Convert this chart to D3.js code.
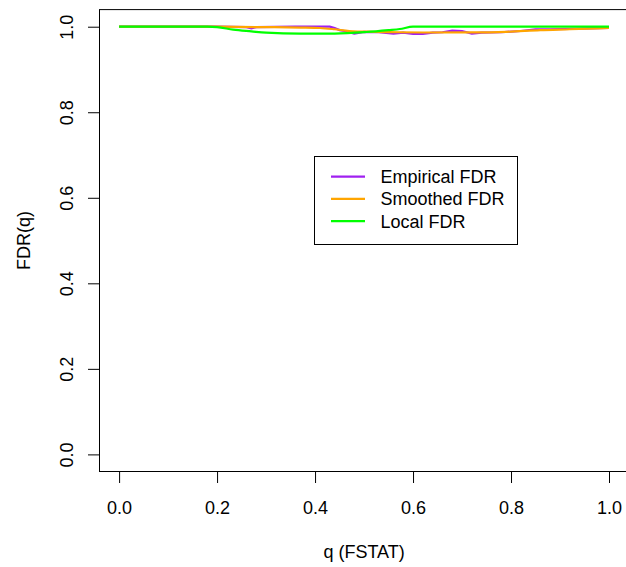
<!DOCTYPE html>
<html>
<head>
<meta charset="utf-8">
<script src="https://cdn.jsdelivr.net/npm/d3@7"></script>
<style>
  body { margin: 0; background: #fff; }
  text { font-family: "Liberation Sans", Arial, Helvetica, sans-serif; }
</style>
</head>
<body>
<div id="graph-div"></div>
<script>
// values
let empQ   = [0.00, 0.20, 0.26, 0.27, 0.28, 0.36, 0.43, 0.44, 0.45, 0.46, 0.48, 0.50, 0.53, 0.56, 0.58, 0.60, 0.62, 0.64, 0.66, 0.68, 0.70, 0.72, 0.74, 0.78, 0.82, 0.85, 0.88, 0.92, 0.96, 1.00]
let empFDR = [1.000, 1.000, 0.999, 0.996, 0.999, 1.000, 1.000, 0.997, 0.992, 0.990, 0.984, 0.988, 0.987, 0.984, 0.986, 0.983, 0.983, 0.986, 0.987, 0.991, 0.990, 0.984, 0.986, 0.987, 0.990, 0.994, 0.994, 0.995, 0.996, 0.997]

let smoothQ   = [0.00, 0.20, 0.30, 0.37, 0.41, 0.44, 0.47, 0.52, 0.57, 0.62, 0.72, 0.79, 0.86, 0.92, 1.00]
let smoothFDR = [1.000, 1.000, 0.999, 0.998, 0.997, 0.994, 0.990, 0.988, 0.987, 0.9865, 0.9867, 0.988, 0.992, 0.994, 0.997]

let localQ   = [0.00, 0.18, 0.20, 0.233, 0.27, 0.30, 0.37, 0.44, 0.505, 0.55, 0.573, 0.60, 1.00]
let localFDR = [1.000, 1.000, 0.999, 0.993, 0.989, 0.986, 0.984, 0.984, 0.9876, 0.992, 0.9946, 1.000, 1.000]

let xTicks = [0, 0.2, 0.4, 0.6, 0.8, 1.0]
let yTicks = [0, 0.2, 0.4, 0.6, 0.8, 1.0]
let legendLabels = ["Empirical FDR", "Smoothed FDR", "Local FDR"]
let colors = ["#A020F0", "#FFA500", "#00FF00"]

let width = 626, height = 567
let plotLeft = 99.5, plotRight = 628.6, plotTop = 9.6, plotBottom = 471.5

let x = d3.scaleLinear().domain([-0.04, 1.04]).range([plotLeft, plotRight])
let y = d3.scaleLinear().domain([-0.04, 1.04]).range([plotBottom, plotTop])

let svg = d3.select("#graph-div")
    .append("svg")
    .attr("width", width)
    .attr("height", height)

// curves: empirical first, local on top
function zipSeries(qs, vs){
    return qs.map((q, i) => [q, vs[i]])
}
let series = [
    {data: zipSeries(empQ, empFDR), curve: d3.curveLinear},
    {data: zipSeries(smoothQ, smoothFDR), curve: d3.curveMonotoneX},
    {data: zipSeries(localQ, localFDR), curve: d3.curveMonotoneX}
]
series.forEach((s, i) => {
    let line = d3.line().x(d => x(d[0])).y(d => y(d[1])).curve(s.curve)
    svg.append("path")
        .datum(s.data)
        .attr("d", line)
        .attr("fill", "none")
        .attr("stroke", colors[i])
        .attr("stroke-width", 2.2)
})

// box
svg.append("rect")
    .attr("x", plotLeft).attr("y", plotTop)
    .attr("width", plotRight - plotLeft).attr("height", plotBottom - plotTop)
    .attr("fill", "none").attr("stroke", "#000").attr("stroke-width", 1)

// x axis
let xAxis = d3.axisBottom(x).tickValues(xTicks).tickFormat(d3.format(".1f")).tickSize(11.5).tickPadding(18)
let gx = svg.append("g").attr("transform", `translate(0,${plotBottom})`).call(xAxis)
gx.select(".domain").attr("d", `M${x(0)},0H${x(1)}`)
gx.selectAll("text").attr("font-size", 18).attr("font-family", "Liberation Sans, Arial, sans-serif").attr("fill", "#000")
gx.selectAll("line").attr("stroke", "#000")

// y axis, labels turned like R's las=0
let yAxis = d3.axisLeft(y).tickValues(yTicks).tickFormat(d3.format(".1f")).tickSize(11.5).tickPadding(0)
let gy = svg.append("g").attr("transform", `translate(${plotLeft},0)`).call(yAxis)
gy.select(".domain").attr("d", `M0,${y(0)}V${y(1)}`)
gy.selectAll("line").attr("stroke", "#000")
gy.selectAll("text")
    .attr("font-size", 18)
    .attr("font-family", "Liberation Sans, Arial, sans-serif")
    .attr("fill", "#000")
    .attr("x", null).attr("dy", null)
    .attr("text-anchor", "middle")
    .attr("transform", `translate(${73.3 - plotLeft},0) rotate(-90)`)

// axis titles
svg.append("text")
    .attr("x", (plotLeft + plotRight) / 2).attr("y", 558)
    .attr("text-anchor", "middle").attr("font-size", 18)
    .text("q (FSTAT)")
svg.append("text")
    .attr("transform", `translate(30.3,${(plotTop + plotBottom) / 2}) rotate(-90)`)
    .attr("text-anchor", "middle").attr("font-size", 18)
    .text("FDR(q)")

// legend
let legend = svg.append("g")
legend.append("rect")
    .attr("x", 314.5).attr("y", 156.5).attr("width", 203).attr("height", 88)
    .attr("fill", "#fff").attr("stroke", "#000")
legendLabels.forEach((label, i) => {
    let cy = 176.7 + i * 22.2
    legend.append("line")
        .attr("x1", 331).attr("x2", 365).attr("y1", cy).attr("y2", cy)
        .attr("stroke", colors[i]).attr("stroke-width", 2.2)
    legend.append("text")
        .attr("x", 380.5).attr("y", cy + 6.4)
        .attr("font-size", 18)
        .text(label)
})
</script>
</body>
</html>
